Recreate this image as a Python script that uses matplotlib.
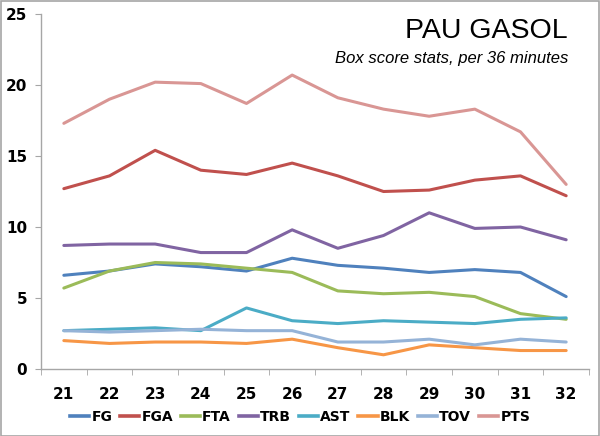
import matplotlib
matplotlib.use("Agg")
import matplotlib.pyplot as plt
from matplotlib.lines import Line2D
from matplotlib.patches import Rectangle

ages = [21, 22, 23, 24, 25, 26, 27, 28, 29, 30, 31, 32]
FG  = [6.6, 6.9, 7.4, 7.2, 6.9, 7.8, 7.3, 7.1, 6.8, 7.0, 6.8, 5.1]
FGA = [12.7, 13.6, 15.4, 14.0, 13.7, 14.5, 13.6, 12.5, 12.6, 13.3, 13.6, 12.2]
FTA = [5.7, 6.9, 7.5, 7.4, 7.1, 6.8, 5.5, 5.3, 5.4, 5.1, 3.9, 3.5]
TRB = [8.7, 8.8, 8.8, 8.2, 8.2, 9.8, 8.5, 9.4, 11.0, 9.9, 10.0, 9.1]
AST = [2.7, 2.8, 2.9, 2.7, 4.3, 3.4, 3.2, 3.4, 3.3, 3.2, 3.5, 3.6]
BLK = [2.0, 1.8, 1.9, 1.9, 1.8, 2.1, 1.5, 1.0, 1.7, 1.5, 1.3, 1.3]
TOV = [2.7, 2.6, 2.7, 2.8, 2.7, 2.7, 1.9, 1.9, 2.1, 1.7, 2.1, 1.9]
PTS = [17.3, 19.0, 20.2, 20.1, 18.7, 20.7, 19.1, 18.3, 17.8, 18.3, 16.7, 13.0]

series_names = ["FG", "FGA", "FTA", "TRB", "AST", "BLK", "TOV", "PTS"]
series_values = [FG, FGA, FTA, TRB, AST, BLK, TOV, PTS]
colors = ["#4F81BD", "#C0504D", "#9BBB59", "#8064A2", "#4BACC6", "#F79646", "#95B3D7", "#D99694"]

plt.rcParams['font.family'] = ['DejaVu Sans']

fig = plt.figure(figsize=(6, 4.36), dpi=100)
fig.patches.append(Rectangle((0.001, 0.001), 0.997, 0.997, transform=fig.transFigure,
                             fill=False, edgecolor="#A6A6A6", linewidth=1.2))
ax = fig.add_axes([41/600, (436-369)/436, 548/600, (369-14)/436])

x = list(range(len(ages)))
for name, vals, c in zip(series_names, series_values, colors):
    ax.plot(x, vals, color=c, linewidth=2.2, label=name, solid_capstyle='round', solid_joinstyle='round')

ax.set_xlim(-0.5, len(ages) - 0.5)
ax.set_ylim(0, 25)
ax.set_yticks([0, 5, 10, 15, 20, 25])
ax.set_xticks(x)
ax.set_xticklabels([str(a) for a in ages])
ax.set_xticks([i - 0.5 for i in range(len(ages) + 1)], minor=True)
ax.tick_params(axis='x', which='major', length=0, pad=13, labelsize=11)
ax.tick_params(axis='x', which='minor', length=4, color="#A6A6A6", direction='out')
ax.tick_params(axis='y', length=4, color="#A6A6A6", direction='out', labelsize=11, pad=6)
for lab in ax.get_xticklabels() + ax.get_yticklabels():
    lab.set_fontweight('bold')
for s in ['top', 'right']:
    ax.spines[s].set_visible(False)
for s in ['left', 'bottom']:
    ax.spines[s].set_color("#A6A6A6")
    ax.spines[s].set_linewidth(1.0)

fig.text(568/600, 1 - 31/436, "PAU GASOL", ha='right', va='center', fontsize=20.5,
         family='Liberation Sans')
fig.text(568/600, 1 - 59/436, "Box score stats, per 36 minutes", ha='right', va='center',
         fontsize=12, style='italic', family='Liberation Sans')

handles = [Line2D([0], [0], color=c, linewidth=2.6) for c in colors]
leg = fig.legend(handles, series_names, loc='center', bbox_to_anchor=(0.5, 1 - 417/436),
                 ncol=8, frameon=False, handlelength=1.4, handletextpad=0.15, columnspacing=0.55,
                 prop={'weight': 'bold', 'size': 10})

fig.savefig("out.png", dpi=100)
